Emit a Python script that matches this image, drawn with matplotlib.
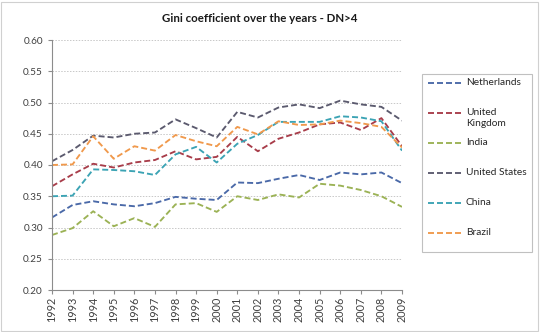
import matplotlib
matplotlib.use("Agg")
import matplotlib.pyplot as plt
from matplotlib.lines import Line2D
from matplotlib.patches import Rectangle

plt.rcParams['font.family'] = ['Lato', 'DejaVu Sans']

years = list(range(1992, 2010))

netherlands = [0.316, 0.336, 0.342, 0.337, 0.334, 0.339, 0.349, 0.346, 0.344,
               0.372, 0.371, 0.378, 0.384, 0.376, 0.388, 0.385, 0.388, 0.371]
united_kingdom = [0.366, 0.385, 0.402, 0.396, 0.404, 0.408, 0.422, 0.409, 0.413,
                  0.445, 0.422, 0.442, 0.452, 0.465, 0.468, 0.456, 0.475, 0.430]
india = [0.288, 0.299, 0.326, 0.302, 0.315, 0.301, 0.337, 0.339, 0.325,
         0.350, 0.344, 0.353, 0.348, 0.370, 0.367, 0.360, 0.350, 0.333]
united_states = [0.406, 0.424, 0.447, 0.444, 0.450, 0.452, 0.473, 0.459, 0.444,
                 0.485, 0.476, 0.492, 0.497, 0.491, 0.503, 0.497, 0.493, 0.471]
china = [0.350, 0.351, 0.393, 0.392, 0.390, 0.384, 0.417, 0.429, 0.404,
         0.434, 0.448, 0.469, 0.469, 0.469, 0.478, 0.476, 0.470, 0.423]
brazil = [0.400, 0.401, 0.446, 0.410, 0.430, 0.423, 0.448, 0.438, 0.430,
          0.461, 0.449, 0.470, 0.464, 0.465, 0.471, 0.467, 0.461, 0.428]

series = [
    ("Netherlands", netherlands, "#4a69a8"),
    ("United\nKingdom", united_kingdom, "#a83d4a"),
    ("India", india, "#9bb255"),
    ("United States", united_states, "#5b5a6e"),
    ("China", china, "#3ba3b4"),
    ("Brazil", brazil, "#f0994c"),
]

W, H = 540, 332
fig = plt.figure(figsize=(W / 100, H / 100), dpi=100)
ax = fig.add_axes([52 / W, 1 - 290 / H, 350 / W, 250 / H])

dash = (0, (3.2, 1.6))
for name, vals, color in series:
    ax.plot(years, vals, color=color, lw=1.35, linestyle=dash)

ax.set_xlim(1992, 2009)
ax.set_ylim(0.20, 0.60)
ax.set_yticks([0.20 + 0.05 * i for i in range(9)])
ax.set_yticklabels([f"{0.20 + 0.05 * i:.2f}" for i in range(9)])
ax.set_xticks(years)
ax.set_xticklabels([str(y) for y in years], rotation=90)

ax.grid(axis='y', color='#c8c8c8', linestyle=(0, (1.5, 1.5)), lw=0.7)
ax.set_axisbelow(True)
for side in ('top', 'right'):
    ax.spines[side].set_visible(False)
for side in ('left', 'bottom'):
    ax.spines[side].set_color('#8c8c8c')
    ax.spines[side].set_linewidth(0.8)
ax.tick_params(axis='both', colors='#8c8c8c', labelcolor='#404040',
               labelsize=7.2, length=3, width=0.8, direction='out')
ax.tick_params(axis='x', pad=2, labelsize=7.8)

fig.text(260 / W, 1 - 18 / H, "Gini coefficient over the years - DN>4",
         ha='center', va='center', fontsize=8.3, fontweight='bold',
         color='#1a1a1a')

# legend box on the right
fig.add_artist(Rectangle((422 / W, 1 - 252 / H), 110 / W, 178 / H,
                         transform=fig.transFigure, fill=False,
                         edgecolor='#c0c0c0', lw=0.8))
for i, (name, vals, color) in enumerate(series):
    y = 1 - (83 + 30 * i) / H
    fig.add_artist(Line2D([428 / W, 463 / W], [y, y], transform=fig.transFigure,
                          color=color, lw=1.35, linestyle=dash))
    fig.text(466 / W, y + 5 / H, name, ha='left', va='top', fontsize=7.3,
             color='#262626', linespacing=1.25)

# chart border
fig.add_artist(Rectangle((1 / W, 1 / H), (W - 3) / W, (H - 3) / H,
                         transform=fig.transFigure, fill=False,
                         edgecolor='#d0d0d0', lw=0.8))

fig.savefig("out.png", dpi=100)
